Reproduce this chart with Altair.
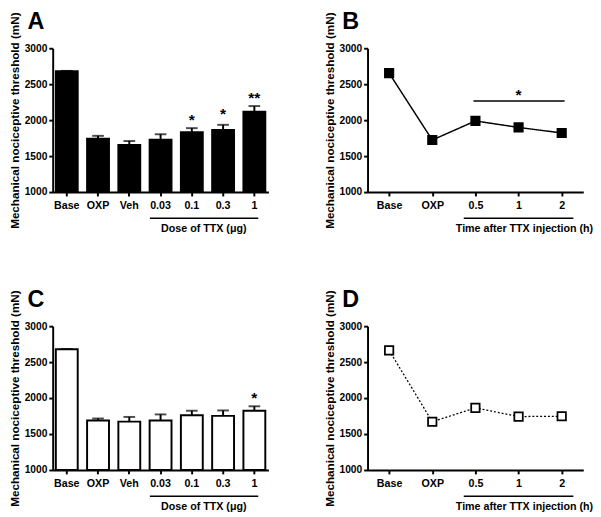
import altair as alt
import pandas as pd

FONT = "Liberation Sans"

# ---- data ----
dose_cats = ["Base", "OXP", "Veh", "0.03", "0.1", "0.3", "1"]
a_mean = [2680, 1742, 1656, 1728, 1831, 1863, 2119]
a_err = [5, 40, 54, 76, 58, 72, 77]
a_star_cat = ["0.1", "0.3", "1"]
a_star_txt = ["*", "*", "**"]
a_star_y = [2056, 2133, 2366]

c_mean = [2678, 1688, 1673, 1688, 1762, 1753, 1824]
c_err = [5, 28, 65, 85, 62, 75, 62]
c_star_cat = ["1"]
c_star_txt = ["*"]
c_star_y = [2051]

time_cats = ["Base", "OXP", "0.5", "1", "2"]
b_mean = [2654, 1724, 1989, 1899, 1822]
b_err = [35, 40, 40, 35, 40]
b_sig_start, b_sig_end, b_sig_y = "0.5", "2", 2267
b_star_cat, b_star_y = "1", 2402

d_mean = [2664, 1671, 1864, 1743, 1747]

panel_letters = ["A", "B", "C", "D"]
y_ticks = [1000, 1500, 2000, 2500, 3000]
y_title = "Mechanical nociceptive threshold (mN)"
dose_title = "Dose of TTX (\u03bcg)"
time_title = "Time after TTX injection (h)"

W, H = 222, 148


def yenc(field="v"):
    return alt.Y(
        f"{field}:Q",
        scale=alt.Scale(domain=[1000, 3000], nice=False, zero=False),
        axis=alt.Axis(values=y_ticks, format="d", title=y_title, titlePadding=3),
    )


def xenc_bar():
    return alt.X(
        "cat:N",
        sort=dose_cats,
        scale=alt.Scale(domain=dose_cats, paddingInner=0.3, paddingOuter=0.1),
        axis=alt.Axis(title=dose_title, titleX=155, titleY=32),
    )


def xenc_time():
    return alt.X(
        "cat:N",
        sort=time_cats,
        scale=alt.Scale(domain=time_cats, type="point", padding=0.5),
        axis=alt.Axis(title=time_title, titleX=161, titleY=32),
    )


def letter_layer(letter):
    ldf = pd.DataFrame({"t": [letter]})
    return alt.Chart(ldf).mark_text(
        font=FONT, fontSize=24, fontWeight="bold", align="left",
        baseline="alphabetic", color="black",
    ).encode(text="t:N", x=alt.value(-26), y=alt.value(-20))


def bar_panel(letter, means, errs, star_cat, star_txt, star_y, filled):
    df = pd.DataFrame({"cat": dose_cats, "v": means, "top": [m + e for m, e in zip(means, errs)]})
    bars = alt.Chart(df).mark_bar(
        fill="black" if filled else "white", stroke="black", strokeWidth=2
    ).encode(x=xenc_bar(), y=yenc(), y2=alt.datum(1000))
    err = alt.Chart(df).mark_rule(color="black", strokeWidth=2).encode(
        x=xenc_bar(), y=yenc(), y2="top:Q"
    )
    cap = alt.Chart(df).mark_tick(color="black", thickness=2, size=12).encode(
        x=xenc_bar(), y=yenc("top")
    )
    sdf = pd.DataFrame({"cat": star_cat, "v": star_y, "t": star_txt})
    stars = alt.Chart(sdf).mark_text(
        font=FONT, fontSize=16, fontWeight="bold", baseline="middle", dy=4, color="black"
    ).encode(x=xenc_bar(), y=yenc(), text="t:N")
    udf = pd.DataFrame({"cat": ["0.03"], "cat2": ["1"]})
    under = alt.Chart(udf).mark_rule(
        color="black", strokeWidth=1.5, xOffset=-11, x2Offset=4
    ).encode(x=xenc_bar(), x2="cat2:N", y=alt.value(H + 27))
    return alt.layer(bars, err, cap, stars, under, letter_layer(letter)).properties(
        width=W, height=H
    )


def line_panel(letter, means, errs, filled, sig):
    df = pd.DataFrame({"cat": time_cats, "v": means})
    layers = []
    layers.append(
        alt.Chart(df).mark_line(
            color="black",
            strokeWidth=1.5 if filled else 1.3,
            strokeDash=[1, 0] if filled else [2, 2],
        ).encode(x=xenc_time(), y=yenc())
    )
    if errs is not None:
        edf = pd.DataFrame({
            "cat": time_cats,
            "lo": [m - e for m, e in zip(means, errs)],
            "hi": [m + e for m, e in zip(means, errs)],
        })
        layers.append(
            alt.Chart(edf).mark_rule(color="black", strokeWidth=2).encode(
                x=xenc_time(), y=yenc("lo"), y2="hi:Q"
            )
        )
        layers.append(
            alt.Chart(edf).mark_tick(color="black", thickness=2, size=9).encode(
                x=xenc_time(), y=yenc("hi")
            )
        )
        layers.append(
            alt.Chart(edf).mark_tick(color="black", thickness=2, size=9).encode(
                x=xenc_time(), y=yenc("lo")
            )
        )
    layers.append(
        alt.Chart(df).mark_point(
            shape="square", size=75, filled=True,
            fill="black" if filled else "white", stroke="black",
            strokeWidth=1.8, opacity=1,
        ).encode(x=xenc_time(), y=yenc())
    )
    if sig:
        sdf = pd.DataFrame({"cat": [b_sig_start], "cat2": [b_sig_end], "v": [b_sig_y]})
        layers.append(
            alt.Chart(sdf).mark_rule(color="black", strokeWidth=1.5, xOffset=-2, x2Offset=3).encode(
                x=xenc_time(), x2="cat2:N", y=yenc()
            )
        )
        tdf = pd.DataFrame({"cat": [b_star_cat], "v": [b_star_y], "t": ["*"]})
        layers.append(
            alt.Chart(tdf).mark_text(
                font=FONT, fontSize=16, fontWeight="bold", baseline="middle", dy=4, color="black"
            ).encode(x=xenc_time(), y=yenc(), text="t:N")
        )
    udf = pd.DataFrame({"cat": ["0.5"], "cat2": ["2"]})
    layers.append(
        alt.Chart(udf).mark_rule(color="black", strokeWidth=1.5, xOffset=-12, x2Offset=12).encode(
            x=xenc_time(), x2="cat2:N", y=alt.value(H + 27)
        )
    )
    layers.append(letter_layer(letter))
    return alt.layer(*layers).properties(width=W, height=H)


A = bar_panel(panel_letters[0], a_mean, a_err, a_star_cat, a_star_txt, a_star_y, True)
B = line_panel(panel_letters[1], b_mean, b_err, True, True)
C = bar_panel(panel_letters[2], c_mean, c_err, c_star_cat, c_star_txt, c_star_y, False)
D = line_panel(panel_letters[3], d_mean, None, False, False)

top = alt.hconcat(A, B, spacing=56)
bottom = alt.hconcat(C, D, spacing=56)

chart = (
    alt.vconcat(top, bottom, spacing=56)
    .properties(padding={"left": 0, "top": -5, "right": 0, "bottom": 0})
    .configure_view(strokeWidth=0)
    .configure_axis(
        grid=False,
        domainColor="black",
        domainWidth=2,
        tickColor="black",
        tickWidth=2,
        tickSize=4,
        labelColor="black",
        labelFont=FONT,
        labelFontWeight="bold",
        labelFontSize=11,
        labelPadding=3,
        titleColor="black",
        titleFont=FONT,
        titleFontWeight="bold",
        titleFontSize=11,
    )
    .configure_axisY(labelFontSize=10.5, labelPadding=2, titleFontSize=12)
    .configure_axisX(labelAngle=0, labelPadding=4)
)

chart.save("out.html", embed_options={"renderer": "svg", "actions": False})
